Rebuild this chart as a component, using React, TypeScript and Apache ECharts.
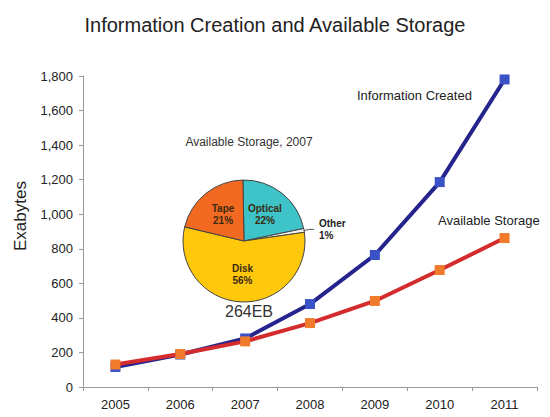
import React, { useEffect, useRef } from "react";
import * as echarts from "echarts";

const years = ["2005", "2006", "2007", "2008", "2009", "2010", "2011"];
const infoCreated = [116, 188, 281, 480, 764, 1186, 1780];
const availableStorage = [130, 191, 264, 370, 498, 677, 862];
const pieNames = ["Optical", "Other", "Disk", "Tape"];
const pieValues = [22, 1, 56, 21];
const pieColors = ["#3EC3C8", "#F3F3F3", "#FFC80A", "#F26A22"];

export default function App() {
  const ref = useRef<HTMLDivElement>(null);
  useEffect(() => {
    const chart = echarts.init(ref.current!, null, { renderer: "svg" });
    const font = "'Liberation Sans', Arial, sans-serif";
    chart.setOption({
      animation: false,
      backgroundColor: "#fff",
      textStyle: { fontFamily: font },
      title: [
        {
          text: "Information Creation and Available Storage",
          left: "center",
          top: 10,
          textStyle: { fontSize: 20, fontWeight: "normal", color: "#222", fontFamily: font },
        },
        {
          text: "Available Storage, 2007",
          left: 244,
          top: 131,
          textAlign: "center",
          textStyle: { fontSize: 12, fontWeight: "normal", color: "#333", fontFamily: font },
        },
        {
          text: "264EB",
          left: 244,
          top: 298,
          textAlign: "center",
          textStyle: { fontSize: 16, fontWeight: "normal", color: "#333", fontFamily: font },
        },
      ],
      grid: { left: 83, right: 13, top: 76, bottom: 30 },
      xAxis: {
        type: "category",
        data: years,
        boundaryGap: true,
        axisLine: { lineStyle: { color: "#999", width: 1 } },
        axisTick: { show: true, lineStyle: { color: "#999" }, length: 4 },
        axisLabel: { color: "#222", fontSize: 13, margin: 11 },
      },
      yAxis: {
        type: "value",
        min: 0,
        max: 1800,
        interval: 200,
        splitLine: { show: false },
        axisLine: { show: true, lineStyle: { color: "#999" } },
        axisTick: { show: true, length: 4, lineStyle: { color: "#999" } },
        axisLabel: {
          color: "#222",
          fontSize: 13,
          margin: 10,
          formatter: (v: number) => v.toLocaleString("en-US"),
        },
      },
      series: [
        {
          name: "Information Created",
          type: "line",
          data: infoCreated,
          symbol: "rect",
          symbolSize: 10,
          lineStyle: { color: "#24248C", width: 4 },
          itemStyle: { color: "#3A52C6" },
          z: 3,
        },
        {
          name: "Available Storage",
          type: "line",
          data: availableStorage,
          symbol: "rect",
          symbolSize: 10,
          lineStyle: { color: "#D42C2C", width: 4 },
          itemStyle: { color: "#F07B2C" },
          z: 4,
        },
        {
          type: "pie",
          center: [244, 241],
          radius: 61,
          startAngle: 91,
          clockwise: true,
          z: 5,
          itemStyle: { borderColor: "#444", borderWidth: 1 },
          label: {
            position: "inside",
            formatter: "{b}\n{c}%",
            fontSize: 10,
            fontWeight: "bold",
            color: "#3a2a10",
            lineHeight: 12,
          },
          data: pieNames.map((n, i) => {
            const d: any = { name: n, value: pieValues[i], itemStyle: { color: pieColors[i] } };
            if (n === "Other") {
              d.label = { position: "outside", color: "#222", fontSize: 10, fontWeight: "bold", align: "center" };
              d.labelLine = { show: true, length: 6, length2: 4, lineStyle: { color: "#555" } };
            }
            return d;
          }),
        },
      ],
      graphic: [
        {
          type: "text",
          x: 20,
          y: 216,
          rotation: Math.PI / 2,
          style: {
            text: "Exabytes",
            fontSize: 17,
            fill: "#222",
            fontFamily: font,
            align: "center",
            verticalAlign: "middle",
          },
        },
        {
          type: "text",
          left: 357,
          top: 89,
          style: { text: "Information Created", fontSize: 13, fill: "#222", fontFamily: font },
        },
        {
          type: "text",
          left: 438,
          top: 214,
          style: { text: "Available Storage", fontSize: 13, fill: "#222", fontFamily: font },
        },
      ],
    });
    return () => chart.dispose();
  }, []);
  return <div ref={ref} style={{ width: 550, height: 417, position: "absolute", left: 0, top: 0 }} />;
}
